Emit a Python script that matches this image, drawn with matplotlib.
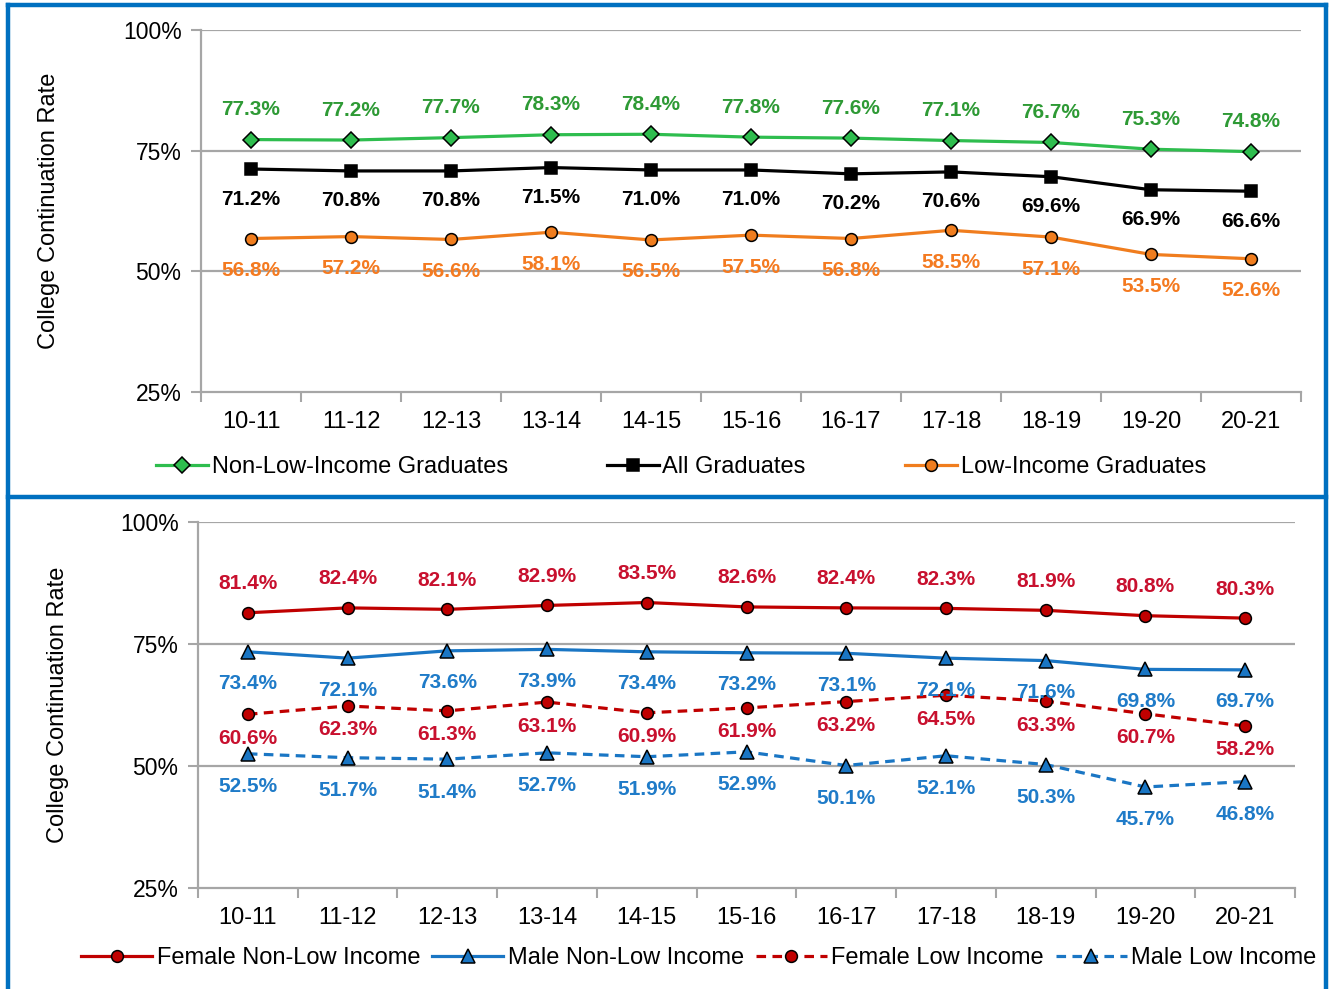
import matplotlib
matplotlib.use("Agg")
import matplotlib.pyplot as plt
from matplotlib.lines import Line2D

plt.rcParams["font.family"] = ["Liberation Sans", "DejaVu Sans"]

years = ["10-11", "11-12", "12-13", "13-14", "14-15", "15-16",
         "16-17", "17-18", "18-19", "19-20", "20-21"]

# top panel
non_low_income = [77.3, 77.2, 77.7, 78.3, 78.4, 77.8, 77.6, 77.1, 76.7, 75.3, 74.8]
all_grads = [71.2, 70.8, 70.8, 71.5, 71.0, 71.0, 70.2, 70.6, 69.6, 66.9, 66.6]
low_income = [56.8, 57.2, 56.6, 58.1, 56.5, 57.5, 56.8, 58.5, 57.1, 53.5, 52.6]

# bottom panel
female_non_low = [81.4, 82.4, 82.1, 82.9, 83.5, 82.6, 82.4, 82.3, 81.9, 80.8, 80.3]
male_non_low = [73.4, 72.1, 73.6, 73.9, 73.4, 73.2, 73.1, 72.1, 71.6, 69.8, 69.7]
female_low = [60.6, 62.3, 61.3, 63.1, 60.9, 61.9, 63.2, 64.5, 63.3, 60.7, 58.2]
male_low = [52.5, 51.7, 51.4, 52.7, 51.9, 52.9, 50.1, 52.1, 50.3, 45.7, 46.8]

yticks = [25, 50, 75, 100]
GREY = "#a6a6a6"
BORDER = "#0070c0"

fig = plt.figure(figsize=(13.3, 9.89), dpi=100)
ax_top = fig.add_axes([201 / 1330, 1 - 392 / 989, 1100 / 1330, 362 / 989])
ax_bot = fig.add_axes([198 / 1330, 1 - 888 / 989, 1097 / 1330, 366 / 989])


def style_axes(ax):
    x = range(len(years))
    ax.set_xlim(-0.5, len(years) - 0.5)
    ax.set_ylim(25, 100)
    ax.set_yticks(yticks)
    ax.set_yticklabels([f"{t}%" for t in yticks], fontsize=16.5)
    ax.set_xticks(list(x))
    ax.set_xticklabels(years, fontsize=17)
    ax.set_xticks([i - 0.5 for i in range(len(years) + 1)], minor=True)
    ax.tick_params(axis="x", which="major", length=0, pad=14)
    ax.tick_params(axis="x", which="minor", length=7, width=1.5, color=GREY)
    ax.tick_params(axis="y", length=7, width=1.5, color=GREY, pad=7)
    for t in yticks[1:]:
        ax.axhline(t, color=GREY, lw=1.6, zorder=1)
    for side in ("top", "right"):
        ax.spines[side].set_visible(False)
    for side in ("left", "bottom"):
        ax.spines[side].set_color(GREY)
        ax.spines[side].set_linewidth(1.6)
    ax.set_ylabel("College Continuation Rate", fontsize=17)


def plot_series(ax, values, color, label_color, marker, ms, dy, ls="-", label=None):
    x = range(len(values))
    line, = ax.plot(x, values, color=color, lw=2.3, marker=marker, ms=ms,
                    markerfacecolor=color, markeredgecolor="black",
                    markeredgewidth=1.1, linestyle=ls, label=label, zorder=3)
    if ls == "--":
        line.set_dashes((3, 2))
    for i, v in zip(x, values):
        ax.annotate(f"{v:.1f}%", (i, v), xytext=(0, dy), textcoords="offset pixels",
                    ha="center", va="center", fontsize=15, fontweight="bold",
                    color=label_color, zorder=4)
    return line


style_axes(ax_top)
h1 = plot_series(ax_top, non_low_income, "#2ebd4e", "#2e9a35", "D", 8.5, 30,
                 label="Non-Low-Income Graduates")
h2 = plot_series(ax_top, all_grads, "black", "black", "s", 8.5, -30,
                 label="All Graduates")
h3 = plot_series(ax_top, low_income, "#f07d1e", "#f47a20", "o", 8.5, -32,
                 label="Low-Income Graduates")
ax_top.yaxis.set_label_coords(-0.128, 0.5)

style_axes(ax_bot)
b1 = plot_series(ax_bot, female_non_low, "#c00000", "#c8102e", "o", 8.5, 29,
                 label="Female Non-Low Income")
b2 = plot_series(ax_bot, male_non_low, "#1a76c4", "#1f7bc8", "^", 10, -32,
                 label="Male Non-Low Income")
b3 = plot_series(ax_bot, female_low, "#c00000", "#c8102e", "o", 8.5, -24, ls="--",
                 label="Female Low Income")
b4 = plot_series(ax_bot, male_low, "#1a76c4", "#1f7bc8", "^", 10, -33, ls="--",
                 label="Male Low Income")
ax_bot.yaxis.set_label_coords(-0.118, 0.5)

fig.legend(handles=[h1, h2, h3], loc="center", bbox_to_anchor=(681 / 1330, 1 - 467 / 989),
           ncol=3, frameon=False, fontsize=17, handlelength=2.2, handletextpad=0.15,
           columnspacing=4.2)
fig.legend(handles=[b1, b2, b3, b4], loc="center", bbox_to_anchor=(699 / 1330, 1 - 958 / 989),
           ncol=4, frameon=False, fontsize=17, handlelength=3.0, handletextpad=0.2,
           columnspacing=0.5)

# blue frame around the two panels
frame = dict(color=BORDER, lw=3.2, transform=fig.transFigure, clip_on=False)
fig.add_artist(Line2D([8 / 1330, 8 / 1330], [0, 1 - 5 / 989], **frame))
fig.add_artist(Line2D([1326 / 1330, 1326 / 1330], [0, 1 - 5 / 989], **frame))
fig.add_artist(Line2D([8 / 1330, 1326 / 1330], [1 - 5 / 989, 1 - 5 / 989], **frame))
fig.add_artist(Line2D([8 / 1330, 1326 / 1330], [1 - 497 / 989, 1 - 497 / 989], **frame))

fig.savefig("out.png", dpi=100)
